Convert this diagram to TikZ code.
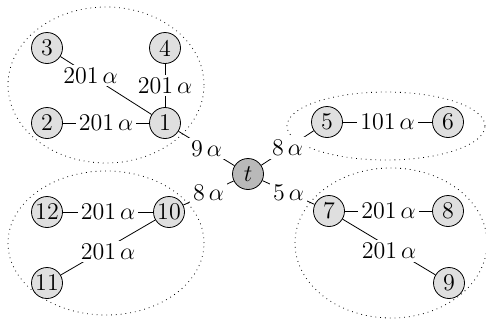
\documentclass[tikz,border=0pt]{standalone}
\usepackage{amsmath,amssymb}
\usepackage{xcolor}
\usepackage{tikz}
\usetikzlibrary{positioning}
\tikzset{
  vertexnode/.style={circle,draw,fill=gray!25,minimum size=15.5pt,inner sep=0pt,font=\large},
  sinknode/.style={vertexnode,fill=gray!55},
  weightlabel/.style={fill=white,inner sep=1.5pt,font=\large},
  clusterline/.style={dotted}
}
\begin{document}
\begin{tikzpicture}[x=0.5pt,y=-0.5pt]
  \useasboundingbox (0,0) rectangle (486,327);
  % clusters
  \draw[clusterline] (106,85) ellipse [x radius=49pt,y radius=39pt];
  \draw[clusterline] (386,126) ellipse [x radius=49.5pt,y radius=17pt];
  \draw[clusterline] (106,243) ellipse [x radius=49pt,y radius=36pt];
  \draw[clusterline] (391,243) ellipse [x radius=48pt,y radius=37.5pt];
  % vertices
  \node[sinknode] (vt) at (248,174) {$t$};
  \node[vertexnode] (vone) at (165,123) {1};
  \node[vertexnode] (vtwo) at (47,123) {2};
  \node[vertexnode] (vthree) at (47,48) {3};
  \node[vertexnode] (vfour) at (165,48) {4};
  \node[vertexnode] (vfive) at (327,122) {5};
  \node[vertexnode] (vsix) at (448,122) {6};
  \node[vertexnode] (vseven) at (329,211) {7};
  \node[vertexnode] (veight) at (448,211) {8};
  \node[vertexnode] (vnine) at (449,283) {9};
  \node[vertexnode] (vten) at (169,212) {10};
  \node[vertexnode] (veleven) at (47,283) {11};
  \node[vertexnode] (vtwelve) at (47,212) {12};
  % edges
  \draw (vone) -- node[weightlabel] {$9\,\alpha$} (vt);
  \draw (vt) -- node[weightlabel] {$8\,\alpha$} (vfive);
  \draw (vt) -- node[weightlabel] {$5\,\alpha$} (vseven);
  \draw (vt) -- node[weightlabel] {$8\,\alpha$} (vten);
  \draw (vtwo) -- node[weightlabel] {$201\,\alpha$} (vone);
  \draw (vthree) -- node[weightlabel,pos=0.33] {$201\,\alpha$} (vone);
  \draw (vfour) -- node[weightlabel] {$201\,\alpha$} (vone);
  \draw (vfive) -- node[weightlabel] {$101\,\alpha$} (vsix);
  \draw (vseven) -- node[weightlabel] {$201\,\alpha$} (veight);
  \draw (vseven) -- node[weightlabel,yshift=-2pt] {$201\,\alpha$} (vnine);
  \draw (vtwelve) -- node[weightlabel] {$201\,\alpha$} (vten);
  \draw (vten) -- node[weightlabel,yshift=-2pt] {$201\,\alpha$} (veleven);
\end{tikzpicture}
\end{document}
